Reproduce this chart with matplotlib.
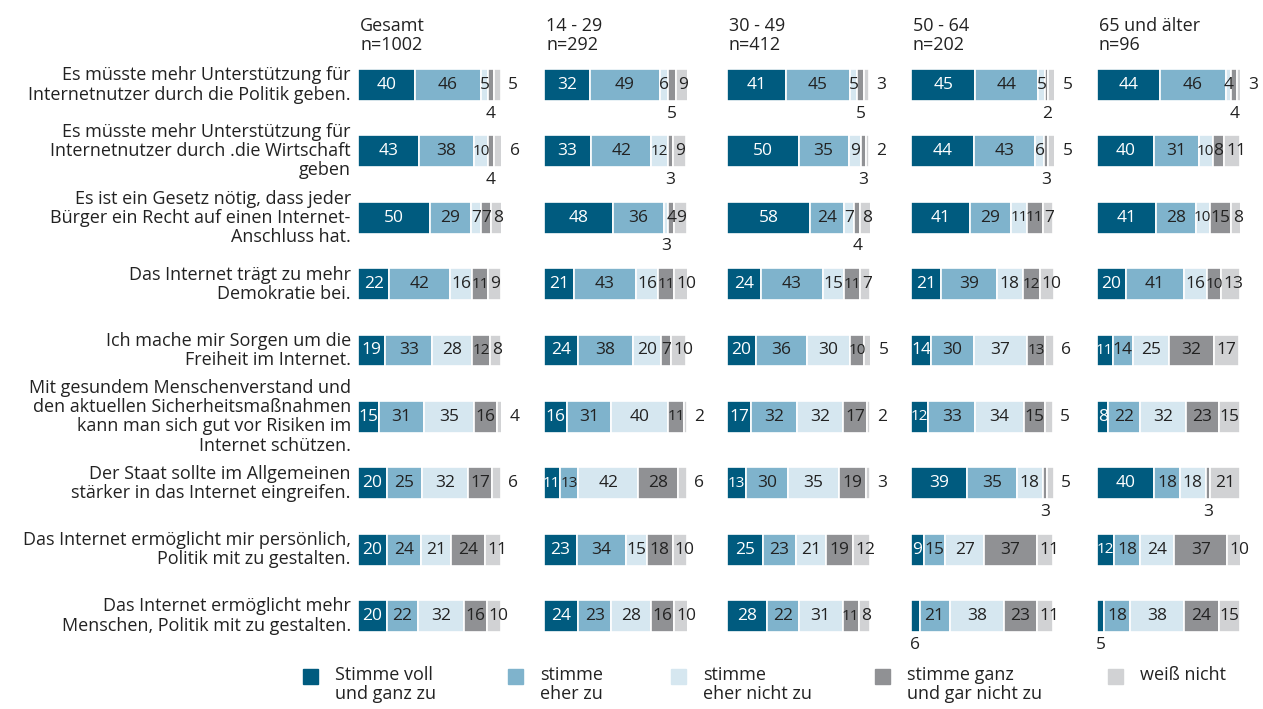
import matplotlib
matplotlib.use("Agg")
import matplotlib.pyplot as plt
from matplotlib.patches import Rectangle

plt.rcParams['font.family'] = ['Open Sans', 'DejaVu Sans']

questions = [
    "Es müsste mehr Unterstützung für\nInternetnutzer durch die Politik geben.",
    "Es müsste mehr Unterstützung für\nInternetnutzer durch .die Wirtschaft\ngeben",
    "Es ist ein Gesetz nötig, dass jeder\nBürger ein Recht auf einen Internet-\nAnschluss hat.",
    "Das Internet trägt zu mehr\nDemokratie bei.",
    "Ich mache mir Sorgen um die\nFreiheit im Internet.",
    "Mit gesundem Menschenverstand und\nden aktuellen Sicherheitsmaßnahmen\nkann man sich gut vor Risiken im\nInternet schützen.",
    "Der Staat sollte im Allgemeinen\nstärker in das Internet eingreifen.",
    "Das Internet ermöglicht mir persönlich,\nPolitik mit zu gestalten.",
    "Das Internet ermöglicht mehr\nMenschen, Politik mit zu gestalten.",
]

groups = ["Gesamt\nn=1002", "14 - 29\nn=292", "30 - 49\nn=412", "50 - 64\nn=202", "65 und älter\nn=96"]

categories = ["Stimme voll\nund ganz zu", "stimme\neher zu", "stimme\neher nicht zu",
              "stimme ganz\nund gar nicht zu", "weiß nicht"]

# one list per group: rows = questions, cols = categories
gesamt = [
    [40, 46, 5, 4, 5],
    [43, 38, 10, 4, 6],
    [50, 29, 7, 7, 8],
    [22, 42, 16, 11, 9],
    [19, 33, 28, 12, 8],
    [15, 31, 35, 16, 4],
    [20, 25, 32, 17, 6],
    [20, 24, 21, 24, 11],
    [20, 22, 32, 16, 10],
]
age_14_29 = [
    [32, 49, 6, 5, 9],
    [33, 42, 12, 3, 9],
    [48, 36, 3, 4, 9],
    [21, 43, 16, 11, 10],
    [24, 38, 20, 7, 10],
    [16, 31, 40, 11, 2],
    [11, 13, 42, 28, 6],
    [23, 34, 15, 18, 10],
    [24, 23, 28, 16, 10],
]
age_30_49 = [
    [41, 45, 5, 5, 3],
    [50, 35, 9, 3, 2],
    [58, 24, 7, 4, 8],
    [24, 43, 15, 11, 7],
    [20, 36, 30, 10, 5],
    [17, 32, 32, 17, 2],
    [13, 30, 35, 19, 3],
    [25, 23, 21, 19, 12],
    [28, 22, 31, 11, 8],
]
age_50_64 = [
    [45, 44, 5, 2, 5],
    [44, 43, 6, 3, 5],
    [41, 29, 11, 11, 7],
    [21, 39, 18, 12, 10],
    [14, 30, 37, 13, 6],
    [12, 33, 34, 15, 5],
    [39, 35, 18, 3, 5],
    [9, 15, 27, 37, 11],
    [6, 21, 38, 23, 11],
]
age_65 = [
    [44, 46, 4, 4, 3],
    [40, 31, 10, 8, 11],
    [41, 28, 10, 15, 8],
    [20, 41, 16, 10, 13],
    [11, 14, 25, 32, 17],
    [8, 22, 32, 23, 15],
    [40, 18, 18, 3, 21],
    [12, 18, 24, 37, 10],
    [5, 18, 38, 24, 15],
]
data = [gesamt, age_14_29, age_30_49, age_50_64, age_65]

colors = ['#005b7f', '#7fb3cc', '#d6e7f0', '#909194', '#d1d2d4']
text_colors = ['white', '#222222', '#222222', '#222222', '#222222']
# small values are written below (or right of) the bar
small_limit = [6, 3, 3, 5, 6]

W, H = 1263, 709
fig = plt.figure(figsize=(W / 100, H / 100), dpi=100)

panel_x = [358, 544, 727, 911, 1097]
panel_w = 143
top_px, bot_px = 51.8, 649.2
nrows = len(questions)
fs = 13
nfs = 12.5

axes = []
for p, x0 in enumerate(panel_x):
    ax = fig.add_axes([x0 / W, 1 - bot_px / H, panel_w / W, (bot_px - top_px) / H])
    ax.set_xlim(0, 100)
    ax.set_ylim(nrows - 0.5, -0.5)
    ax.axis('off')
    axes.append(ax)

    for r, row in enumerate(data[p]):
        left = 0
        below_used = False
        for c, v in enumerate(row):
            ax.barh(r, v, left=left, height=0.48, color=colors[c],
                    edgecolor='white', linewidth=1.2)
            mid = left + v / 2
            if v <= small_limit[c] and c == 4:
                ax.text(left + v + 5, r, str(v), ha='left', va='center',
                        fontsize=nfs, color='#222222', clip_on=False)
            elif v <= small_limit[c] and not below_used:
                ax.text(mid, r + 0.43, str(v), ha='center', va='center',
                        fontsize=nfs, color='#222222', clip_on=False)
                below_used = True
            elif c == 4 and v <= 13:
                # narrow last segment: text starts inside and runs past the bar
                ax.text(left + 1.5, r, str(v), ha='left', va='center',
                        fontsize=nfs, color=text_colors[c], clip_on=False)
            else:
                size = 11 if (v >= 10 and v <= 13) else nfs
                ax.text(mid, r, str(v), ha='center', va='center',
                        fontsize=size, color=text_colors[c], clip_on=False)
            left += v

    fig.text((x0 + 2) / W, 1 - 17 / H, groups[p], ha='left', va='top',
             fontsize=fs, color='#222222', linespacing=1.1)

# question labels
for r, q in enumerate(questions):
    axes[0].text(-5, r, q, ha='right', va='center', fontsize=fs,
                 color='#222222', linespacing=1.08, clip_on=False)

# legend
leg_text_x = [335, 540, 703, 907, 1140]
for i, lab in enumerate(categories):
    fig.patches.append(Rectangle(((leg_text_x[i] - 32) / W, 1 - 684 / H), 15 / W, 15 / H,
                                 transform=fig.transFigure, color=colors[i]))
    fig.text(leg_text_x[i] / W, 1 - 666 / H, lab, ha='left', va='top',
             fontsize=fs, color='#222222', linespacing=1.08)

fig.savefig('out.png', dpi=100)
